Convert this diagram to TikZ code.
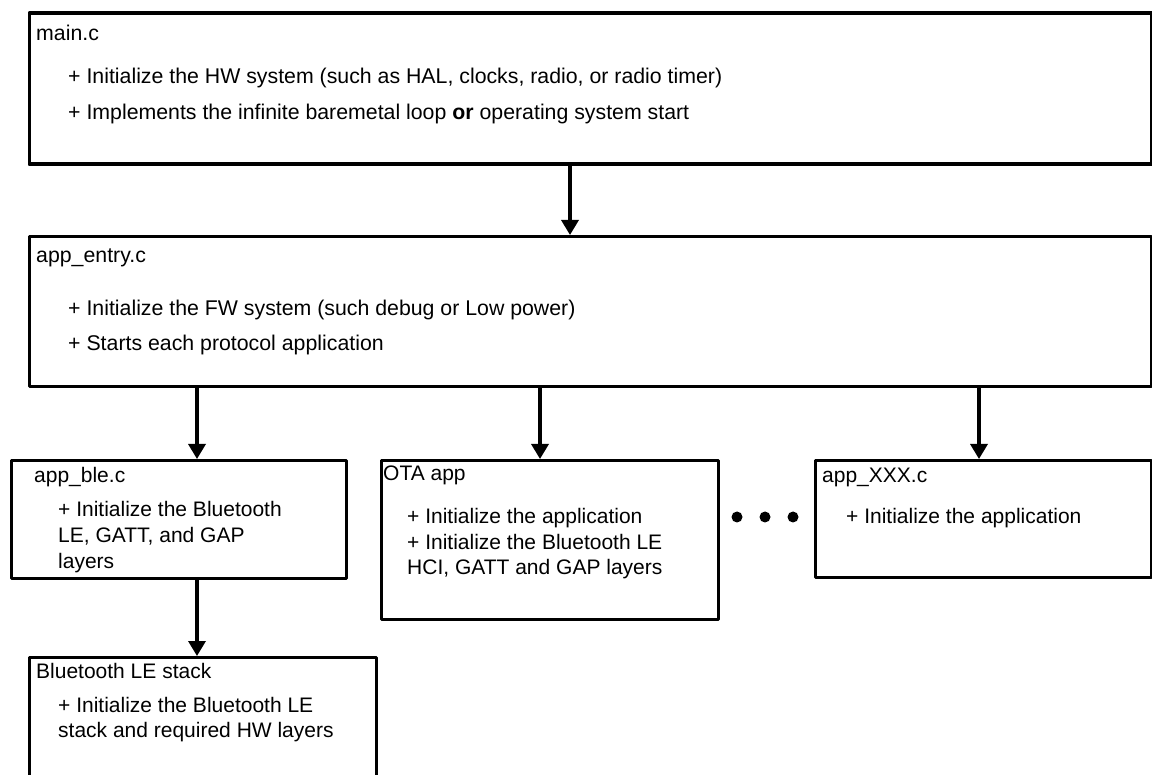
\documentclass[tikz,border=0pt]{standalone}
\usepackage{fontspec}
\setmainfont{Liberation Sans}
\usetikzlibrary{arrows.meta}
\begin{document}
\begin{tikzpicture}[x=1pt,y=-1pt,
  box/.style={draw=black, line width=3.4pt, rectangle, inner sep=0pt, anchor=north west, line join=round},
  txt/.style={anchor=base west, inner sep=0pt, font=\fontsize{21}{25}\selectfont},
  bigtxt/.style={txt, font=\fontsize{21.3}{25}\selectfont},
  arr/.style={line width=3.4pt, -{Triangle[length=15pt,width=17pt]}},
  dot/.style={fill=black}
]
\useasboundingbox (0,0) rectangle (1152,775);
\clip (0,0) rectangle (1152,775);
\fill[white] (0,0) rectangle (1152,775);

% boxes
\node[box, minimum width=1122pt, minimum height=151pt] (main) at (27.5,11.5) {};
\node[box, minimum width=1122pt, minimum height=150pt] (entry) at (27.5,235) {};
\node[box, minimum width=335pt, minimum height=118pt] (ble) at (10,459) {};
\node[box, minimum width=337pt, minimum height=159pt] (ota) at (380,459) {};
\node[box, minimum width=336pt, minimum height=117pt] (xxx) at (814,459) {};
\node[box, minimum width=347pt, minimum height=150pt] (stack) at (27.5,656) {};

% texts
\node[bigtxt] (mainT) at (36,41) {main.c};
\node[bigtxt] (mainA) at (68,84) {+ Initialize the HW system (such as HAL, clocks, radio, or radio timer)};
\node[bigtxt] (mainB) at (68,120) {+ Implements the infinite baremetal loop \textbf{or} operating system start};

\node[bigtxt] (entryT) at (36,263) {app\_entry.c};
\node[bigtxt] (entryA) at (68,316) {+ Initialize the FW system (such debug or Low power)};
\node[bigtxt] (entryB) at (68,351) {+ Starts each protocol application};

\node[txt] (bleT) at (34,483) {app\_ble.c};
\node[txt] (bleA) at (58,517) {+ Initialize the Bluetooth};
\node[txt] (bleB) at (58,543) {LE, GATT, and GAP};
\node[txt] (bleC) at (58,568) {layers};

\node[txt] (otaT) at (383,481) {OTA app};
\node[txt] (otaA) at (407,524) {+ Initialize the application};
\node[txt] (otaB) at (407,549) {+ Initialize the Bluetooth LE};
\node[txt] (otaC) at (407,574) {HCI, GATT and GAP layers};

\node[txt] (xxxT) at (822,483) {app\_XXX.c};
\node[txt] (xxxA) at (846,523) {+ Initialize the application};

\node[txt] (stackT) at (36,678) {Bluetooth LE stack};
\node[txt] (stackA) at (58,712) {+ Initialize the Bluetooth LE};
\node[txt] (stackB) at (58,737) {stack and required HW layers};

% connectors
\draw[arr] (570,0 |- main.south) -- (570,0 |- entry.north);
\draw[arr] (197,0 |- entry.south) -- (197,0 |- ble.north);
\draw[arr] (540,0 |- entry.south) -- (540,0 |- ota.north);
\draw[arr] (979,0 |- entry.south) -- (979,0 |- xxx.north);
\draw[arr] (197,0 |- ble.south) -- (197,0 |- stack.north);

% ellipsis dots
\fill[dot] (737,517) circle[radius=5.5pt];
\fill[dot] (765,517) circle[radius=5.5pt];
\fill[dot] (793,517) circle[radius=5.5pt];
\end{tikzpicture}
\end{document}
